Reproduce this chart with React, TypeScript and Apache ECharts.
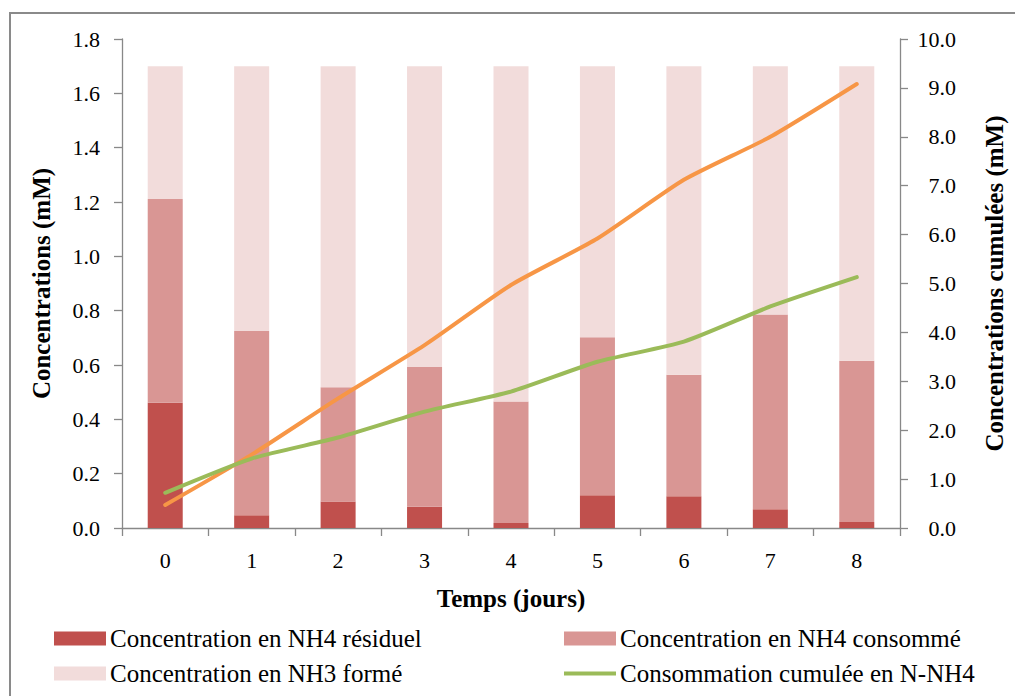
import React, { useEffect, useRef } from "react";
import * as echarts from "echarts";

const days = ["0", "1", "2", "3", "4", "5", "6", "7", "8"];
const nh4Residuel = [0.461, 0.047, 0.098, 0.078, 0.018, 0.121, 0.117, 0.069, 0.022];
const nh4Consomme = [0.75, 0.678, 0.42, 0.515, 0.448, 0.581, 0.447, 0.717, 0.594];
const nh3Forme = [0.489, 0.975, 1.182, 1.107, 1.234, 0.998, 1.136, 0.914, 1.084];
const cumulOrange = [0.47, 1.5, 2.65, 3.74, 4.97, 5.92, 7.12, 8.0, 9.08];
const cumulNNH4 = [0.72, 1.42, 1.85, 2.38, 2.79, 3.4, 3.81, 4.53, 5.13];
const leftTicks = { min: 0, max: 1.8, interval: 0.2 };
const rightTicks = { min: 0, max: 10, interval: 1 };

const nameRes = "Concentration en NH4 résiduel";
const nameCons = "Concentration en NH4 consommé";
const nameForme = "Concentration en NH3 formé";
const nameCumul = "Consommation cumulée en N-NH4";
const nameOrange = "Cumul NH3";

const FONT = "Liberation Serif";

export default function App() {
  const ref = useRef<HTMLDivElement>(null);
  useEffect(() => {
    if (!ref.current) return;
    const chart = echarts.init(ref.current, undefined, { renderer: "svg" });
    const axisLine = { show: true, lineStyle: { color: "#888", width: 1.3 } };
    const tick = { show: true, inside: false, length: 8, lineStyle: { color: "#888", width: 1.3 } };
    const legendBase = {
      orient: "horizontal" as const,
      padding: 0,
      itemWidth: 52,
      itemHeight: 14,
      itemGap: 6,
      textStyle: { fontFamily: FONT, fontSize: 25, color: "#000", padding: [0, 0, 0, -1] },
      selectedMode: false,
    };
    const nameStyle = { fontFamily: FONT, fontSize: 25, fontWeight: "bold", color: "#000" };
    chart.setOption({
      animation: false,
      backgroundColor: "#fff",
      textStyle: { fontFamily: FONT },
      graphic: [
        {
          type: "rect",
          shape: { x: 10, y: 13, width: 1100, height: 800 },
          style: { fill: "none", stroke: "#8a8a8a", lineWidth: 2 },
          silent: true,
        },
      ],
      grid: { left: 122, right: 109, top: 39, bottom: 168, containLabel: false },
      legend: [
        { ...legendBase, left: 54, top: 626, data: [{ name: nameRes, icon: "rect" }] },
        { ...legendBase, left: 564, top: 626, data: [{ name: nameCons, icon: "rect" }] },
        { ...legendBase, left: 54, top: 661, data: [{ name: nameForme, icon: "rect" }] },
        { ...legendBase, left: 564, top: 661, itemHeight: 4, data: [{ name: nameCumul, icon: "rect" }] },
      ],
      xAxis: {
        type: "category",
        data: days,
        boundaryGap: true,
        axisLine,
        axisTick: tick,
        axisLabel: { fontFamily: FONT, fontSize: 22, color: "#000", margin: 21 },
        name: "Temps (jours)",
        nameLocation: "middle",
        nameGap: 58,
        nameTextStyle: nameStyle,
        splitLine: { show: false },
      },
      yAxis: [
        {
          type: "value",
          ...leftTicks,
          position: "left",
          axisLine,
          axisTick: tick,
          axisLabel: {
            fontFamily: FONT,
            fontSize: 22,
            color: "#000",
            margin: 22,
            formatter: (v: number) => v.toFixed(1),
          },
          splitLine: { show: false },
          name: "Concentrations (mM)",
          nameLocation: "middle",
          nameGap: 68,
          nameTextStyle: nameStyle,
        },
        {
          type: "value",
          ...rightTicks,
          position: "right",
          axisLine,
          axisTick: tick,
          axisLabel: {
            fontFamily: FONT,
            fontSize: 22,
            color: "#000",
            margin: 56,
            align: "right",
            formatter: (v: number) => v.toFixed(1),
          },
          splitLine: { show: false },
          name: "Concentrations cumulées (mM)",
          nameLocation: "middle",
          nameGap: 82,
          nameRotate: 90,
          nameTextStyle: nameStyle,
        },
      ],
      series: [
        {
          name: nameRes,
          type: "bar",
          stack: "c",
          data: nh4Residuel,
          barWidth: "40.5%",
          itemStyle: { color: "#C0504D" },
        },
        {
          name: nameCons,
          type: "bar",
          stack: "c",
          data: nh4Consomme,
          itemStyle: { color: "#D99694" },
        },
        {
          name: nameForme,
          type: "bar",
          stack: "c",
          data: nh3Forme,
          itemStyle: { color: "#F2DCDB" },
        },
        {
          name: nameOrange,
          type: "line",
          yAxisIndex: 1,
          data: cumulOrange,
          smooth: 0.2,
          showSymbol: false,
          symbol: "none",
          lineStyle: { color: "#F79646", width: 4, cap: "round" },
          itemStyle: { color: "#F79646" },
        },
        {
          name: nameCumul,
          type: "line",
          yAxisIndex: 1,
          data: cumulNNH4,
          smooth: 0.2,
          showSymbol: false,
          symbol: "none",
          lineStyle: { color: "#9BBB59", width: 4, cap: "round" },
          itemStyle: { color: "#9BBB59" },
        },
      ],
    });
    return () => chart.dispose();
  }, []);
  return (
    <div
      ref={ref}
      style={{ position: "fixed", left: 0, top: 0, width: 1015, height: 696, background: "#fff" }}
    />
  );
}
